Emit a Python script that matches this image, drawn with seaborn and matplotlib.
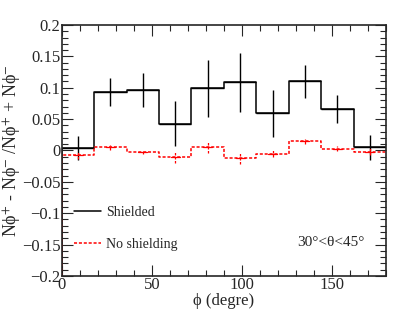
import numpy as np
import pandas as pd
import matplotlib
matplotlib.use('Agg')
import matplotlib.pyplot as plt
import seaborn as sns
from matplotlib.lines import Line2D
from matplotlib.ticker import MultipleLocator

# bin edges in phi (deg)
edges = [0, 18, 36, 54, 72, 90, 108, 126, 144, 162, 180]
shielded = [0.004, 0.093, 0.096, 0.043, 0.099, 0.109, 0.059, 0.110, 0.066, 0.005]
shielded_err = [0.019, 0.022, 0.027, 0.036, 0.045, 0.047, 0.038, 0.027, 0.022, 0.020]
noshield = [-0.008, 0.005, -0.003, -0.011, 0.005, -0.012, -0.005, 0.015, 0.003, -0.002]
noshield_err = [0.005, 0.004, 0.003, 0.009, 0.009, 0.009, 0.006, 0.004, 0.004, 0.006]

centers = [(edges[i] + edges[i+1]) / 2 for i in range(len(edges) - 1)]
ymin, ymax = -0.2, 0.2

sns.set_style('ticks')
plt.rcParams['font.family'] = ['Liberation Serif', 'DejaVu Serif']
plt.rcParams['mathtext.fontset'] = 'stix'

fig = plt.figure(figsize=(4.15, 3.25), dpi=100)
ax = fig.add_axes([0.149, 0.151, 0.781, 0.772])

def step_df(vals):
    # histogram outline: start from the frame bottom like ROOT does
    xs = [edges[0]] + edges
    ys = [ymin] + list(vals) + [vals[-1]]
    return pd.DataFrame({'x': xs, 'y': ys})

sns.lineplot(data=step_df(shielded), x='x', y='y', drawstyle='steps-post',
             estimator=None, sort=False, color='black', lw=1.1, ax=ax)
ax.errorbar(centers, shielded, yerr=shielded_err, xerr=9, fmt='none',
            ecolor='black', elinewidth=1.0, capsize=0)

sns.lineplot(data=step_df(noshield), x='x', y='y', drawstyle='steps-post',
             estimator=None, sort=False, color='red', lw=1.1, ax=ax,
             linestyle=(0, (2, 1.2)))
eb = ax.errorbar(centers, noshield, yerr=noshield_err, fmt='none',
                 ecolor='red', elinewidth=0.9, capsize=0)
eb[2][0].set_linestyle((0, (2, 1.2)))
for c, v in zip(centers, noshield):
    ax.plot([c - 2.5, c + 2.5], [v, v], color='red', lw=0.9)

ax.set_xlim(0, 180)
ax.set_ylim(ymin, ymax)
ax.xaxis.set_major_locator(MultipleLocator(50))
ax.xaxis.set_minor_locator(MultipleLocator(10))
ax.yaxis.set_minor_locator(MultipleLocator(0.01))
ax.set_yticks([-0.2, -0.15, -0.1, -0.05, 0, 0.05, 0.1, 0.15, 0.2])
ax.set_yticklabels(['\u22120.2', '\u22120.15', '\u22120.1', '\u22120.05', '0',
                    '0.05', '0.1', '0.15', '0.2'])
ax.tick_params(which='both', direction='in', top=True, right=True,
               labelsize=12, pad=1)
ax.tick_params(which='major', length=8, width=0.8)
ax.tick_params(which='minor', length=4, width=0.8)
for s in ax.spines.values():
    s.set_linewidth(1.2)

ax.set_xlabel('\u03d5 (degre)', fontsize=12, labelpad=0)
ax.set_ylabel('N\u03d5$^{+}$ - N\u03d5$^{-}$ /N\u03d5$^{+}$ + N\u03d5$^{-}$',
              fontsize=13)
ax.yaxis.set_label_coords(-0.118, 0.5)

handles = [Line2D([], [], color='black', lw=1.1),
           Line2D([], [], color='red', lw=1.1, linestyle=(0, (2, 1.2)))]
ax.legend(handles, ['Shielded', 'No shielding'], loc='lower left',
          bbox_to_anchor=(0.0, 0.05), frameon=False, fontsize=10,
          handlelength=1.9, handletextpad=0.4, labelspacing=1.35)
ax.text(0.935, 0.135, '30\u00b0<\u03b8<45\u00b0', transform=ax.transAxes,
        ha='right', va='center', fontsize=11)

fig.savefig('out.png', dpi=100)
